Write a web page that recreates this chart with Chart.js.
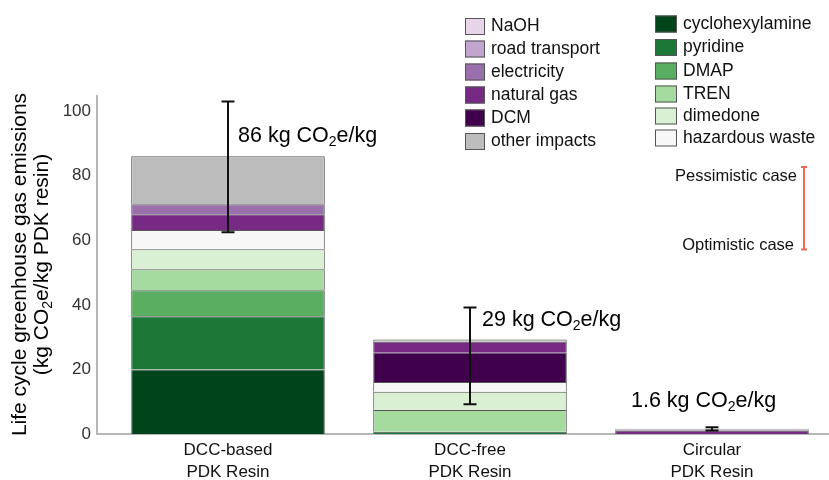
<!DOCTYPE html>
<html>
<head>
<meta charset="utf-8">
<script src="https://cdn.jsdelivr.net/npm/chart.js@4/dist/chart.umd.min.js"></script>
<style>
  html, body { margin: 0; padding: 0; background: #fff; overflow: hidden; }
</style>
</head>
<body>
<canvas id="chart" width="833" height="480"></canvas>
<script>
// Categories and tick labels
const categories = [['DCC-based', 'PDK Resin'], ['DCC-free', 'PDK Resin'], ['Circular', 'PDK Resin']];
const yTicks = [0, 20, 40, 60, 80, 100];

// Contributions, kg CO2e per kg resin (bottom of stack first)
const cyclohexylamine = [20.0, 0, 0];
const pyridine = [16.5, 0.7, 0];
const dmap = [8.0, 0, 0];
const tren = [6.5, 6.7, 0];
const dimedone = [6.2, 5.7, 0];
const hazardousWaste = [6.0, 3.0, 0];
const dcm = [0, 9.1, 0];
const naturalGas = [4.9, 3.4, 1.0];
const electricity = [3.1, 0, 0.3];
const roadTransport = [0, 0, 0];
const naoh = [0, 0, 0];
const otherImpacts = [14.8, 0.7, 0.3];

// Totals and optimistic / pessimistic range
const totals = [86, 29, 1.6];
const errLow = [62.5, 9.2, 1.1];
const errHigh = [103, 39.2, 2.1];

const seriesNames = ['cyclohexylamine', 'pyridine', 'DMAP', 'TREN', 'dimedone', 'hazardous waste',
    'DCM', 'natural gas', 'electricity', 'road transport', 'NaOH', 'other impacts'];
const seriesValues = [cyclohexylamine, pyridine, dmap, tren, dimedone, hazardousWaste,
    dcm, naturalGas, electricity, roadTransport, naoh, otherImpacts];
const seriesColors = ['#00441b', '#1b7837', '#5aae61', '#a6dba0', '#d9f0d3', '#f7f7f7',
    '#40004b', '#762a83', '#9970ab', '#c2a5cf', '#e7d4e8', '#bdbdbd'];

const FONT = '"Liberation Sans", Arial, Helvetica, sans-serif';
Chart.defaults.font.family = FONT;

function colorOf(name) {
    return seriesColors[seriesNames.indexOf(name)];
}

// Text with a subscript "2" in CO2
function drawCO2Label(ctx, value, x, y) {
    const big = '21.5px ' + FONT;
    const small = '14px ' + FONT;
    ctx.textAlign = 'left';
    ctx.textBaseline = 'middle';
    ctx.fillStyle = '#000';
    ctx.font = big;
    const head = value + ' kg CO';
    ctx.fillText(head, x, y);
    x += ctx.measureText(head).width;
    ctx.font = small;
    ctx.fillText('2', x, y + 6);
    x += ctx.measureText('2').width;
    ctx.font = big;
    ctx.fillText('e/kg', x, y);
}

const overlay = {
    id: 'overlay',
    beforeDatasetsDraw(chart) {
        const { ctx, chartArea: a } = chart;
        ctx.save();
        ctx.strokeStyle = '#a0a0a0';
        ctx.lineWidth = 1.5;
        ctx.beginPath();
        ctx.moveTo(97, a.top);
        ctx.lineTo(97, a.bottom);
        ctx.lineTo(chart.width, a.bottom);
        ctx.stroke();
        ctx.restore();
    },
    afterDatasetsDraw(chart) {
        const { ctx, chartArea: a } = chart;
        const xs = chart.scales.x;
        const ys = chart.scales.y;
        ctx.save();

        // Error bars
        ctx.strokeStyle = '#111';
        ctx.lineWidth = 2;
        errLow.forEach((lo, i) => {
            const x = Math.round(xs.getPixelForValue(i));
            const y1 = ys.getPixelForValue(lo);
            const y2 = ys.getPixelForValue(errHigh[i]);
            ctx.beginPath();
            ctx.moveTo(x, y1); ctx.lineTo(x, y2);
            ctx.moveTo(x - 6.5, y1); ctx.lineTo(x + 6.5, y1);
            ctx.moveTo(x - 6.5, y2); ctx.lineTo(x + 6.5, y2);
            ctx.stroke();
        });

        // Total labels
        const labelDx = [10, 12, -81];
        const labelAt = [92.3, 35.3, 10.2];
        totals.forEach((t, i) => {
            drawCO2Label(ctx, t, xs.getPixelForValue(i) + labelDx[i], ys.getPixelForValue(labelAt[i]));
        });

        // Legend, two columns
        const leftCol = ['NaOH', 'road transport', 'electricity', 'natural gas', 'DCM', 'other impacts'];
        const leftY = [26.5, 49, 72, 95, 118, 141.5];
        const rightCol = ['cyclohexylamine', 'pyridine', 'DMAP', 'TREN', 'dimedone', 'hazardous waste'];
        const rightY = [24, 47.5, 71, 94, 116, 138];
        ctx.font = '17.5px ' + FONT;
        ctx.textBaseline = 'middle';
        ctx.textAlign = 'left';
        ctx.lineWidth = 1;
        leftCol.forEach((name, i) => {
            const y = leftY[i];
            ctx.fillStyle = colorOf(name);
            ctx.fillRect(465, y - 8.5, 20, 17);
            ctx.strokeStyle = '#555';
            ctx.strokeRect(465.5, y - 8, 19, 16);
            ctx.fillStyle = '#111';
            ctx.fillText(name, 491, y);
        });
        rightCol.forEach((name, i) => {
            const y = rightY[i];
            ctx.fillStyle = colorOf(name);
            ctx.fillRect(655, y - 8.5, 22, 17);
            ctx.strokeStyle = '#555';
            ctx.strokeRect(655.5, y - 8, 21, 16);
            ctx.fillStyle = '#111';
            ctx.fillText(name, 683, y);
        });

        // Case key
        ctx.font = '16.5px ' + FONT;
        ctx.textAlign = 'right';
        ctx.fillText('Pessimistic case', 797, 176);
        ctx.fillText('Optimistic case', 794, 245);
        ctx.strokeStyle = '#f0695a';
        ctx.lineWidth = 2;
        ctx.beginPath();
        ctx.moveTo(804, 167); ctx.lineTo(804, 249.5);
        ctx.moveTo(801, 167); ctx.lineTo(807, 167);
        ctx.moveTo(801, 249.5); ctx.lineTo(807, 249.5);
        ctx.stroke();

        // Y axis title
        const cy = (a.top + a.bottom) / 2;
        ctx.fillStyle = '#000';
        ctx.font = '21px ' + FONT;
        ctx.textAlign = 'center';
        ctx.textBaseline = 'middle';
        ctx.translate(20, cy);
        ctx.rotate(-Math.PI / 2);
        ctx.fillText('Life cycle greenhouse gas emissions', 0, 0);
        ctx.translate(0, 22);
        const p1 = '(kg CO', p2 = 'e/kg PDK resin)';
        const w1 = ctx.measureText(p1).width, w2 = ctx.measureText(p2).width;
        ctx.font = '14px ' + FONT;
        const ws = ctx.measureText('2').width;
        let x = -(w1 + ws + w2) / 2;
        ctx.font = '21px ' + FONT;
        ctx.textAlign = 'left';
        ctx.fillText(p1, x, 0);
        ctx.font = '14px ' + FONT;
        ctx.fillText('2', x + w1, 6);
        ctx.font = '21px ' + FONT;
        ctx.fillText(p2, x + w1 + ws, 0);
        ctx.restore();
    }
};

const datasets = seriesNames.map((name, i) => ({
    label: name,
    data: seriesValues[i],
    backgroundColor: seriesColors[i],
    borderColor: '#555',
    borderWidth: { top: 1, left: 1, right: 1, bottom: 0 },
    borderSkipped: false,
    barPercentage: 0.8,
    categoryPercentage: 1.0
}));

new Chart(document.getElementById('chart'), {
    type: 'bar',
    data: { labels: categories, datasets: datasets },
    options: {
        responsive: false,
        animation: false,
        layout: { padding: { top: 95, right: 0, left: 0, bottom: 0 } },
        plugins: {
            legend: { display: false },
            tooltip: { enabled: false }
        },
        scales: {
            x: {
                stacked: true,
                grid: { display: false, drawTicks: false },
                border: { display: false },
                ticks: {
                    color: '#111',
                    padding: 5,
                    font: { size: 17, lineHeight: 1.3 }
                },
                afterFit(scale) { scale.height = 46; }
            },
            y: {
                stacked: true,
                min: 0,
                max: 105,
                grid: { display: false, drawTicks: false },
                border: { display: false },
                ticks: {
                    stepSize: 20,
                    includeBounds: false,
                    padding: 16,
                    color: '#333',
                    font: { size: 17 },
                    callback: (v) => yTicks.includes(v) ? String(v) : ''
                },
                afterFit(scale) { scale.width = 107; }
            }
        }
    },
    plugins: [overlay]
});
</script>
</body>
</html>
